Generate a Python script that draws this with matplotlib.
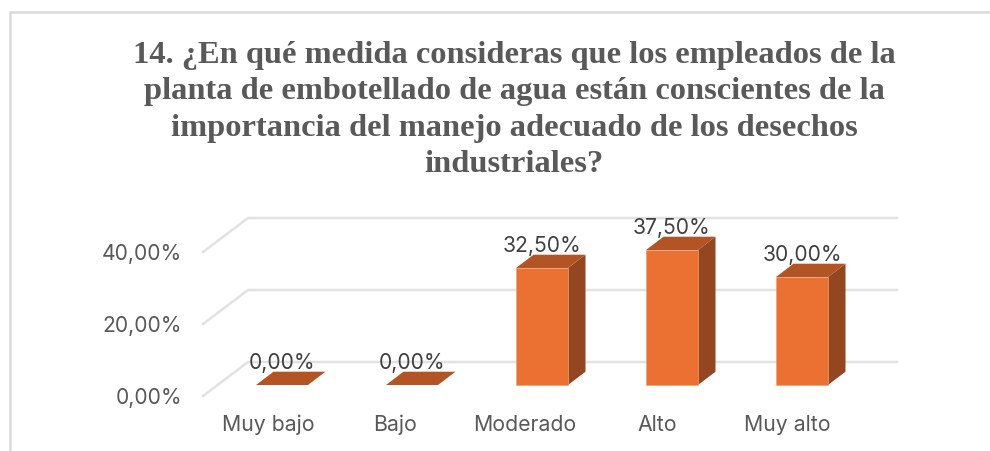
import matplotlib
matplotlib.use('agg')
import matplotlib.pyplot as plt
from matplotlib.patches import Polygon, Rectangle

categories = ['Muy bajo', 'Bajo', 'Moderado', 'Alto', 'Muy alto']
values = [0.0, 0.0, 32.5, 37.5, 30.0]
grid_values = [0, 20, 40]
title = ('14. ¿En qué medida consideras que los empleados de la\n'
         'planta de embotellado de agua están conscientes de la\n'
         'importancia del manejo adecuado de los desechos\n'
         'industriales?')

W, H = 990, 452
FRONT = '#EA7131'
TOP = '#B25423'
SIDE = '#934620'
GRID = '#E2E2E2'
TEXT = '#404040'
LABEL = '#595959'
SANS = 'Inter'
FS_VALUE = 15.2
FS_CAT = 15.3

fig = plt.figure(figsize=(W / 100, H / 100), dpi=100)
fig.add_artist(Rectangle((9.5 / W, -0.05), (W + 20) / W, 1 - 12.5 / H + 0.05,
                         transform=fig.transFigure, fc='white', ec='#DADADA', lw=1.8, zorder=-1))

# axes box in pixels: x 203-897, y 219-397
ax = fig.add_axes([203 / W, 1 - 397 / H, 694 / W, 178 / H])
px_x = 130.0  # pixels per category
px_y = 3.6    # pixels per percent
ax.set_xlim((203 - 282) / px_x, (897 - 282) / px_x)
ax.set_ylim(-11 / px_y, 167 / px_y)
ax.axis('off')

# wall offset from the front plane, in data units
wall_dx = 45 / px_x
wall_dy = 34 / px_y
floor_y = -11 / px_y
bar_w = 52 / px_x
bar_dx = 17.5 / px_x
bar_dy = 13.3 / px_y
x0, x1 = ax.get_xlim()

for v in grid_values:
    y_front = floor_y + v
    ax.plot([x0, x0 + wall_dx, x1], [y_front, y_front + wall_dy, y_front + wall_dy],
            color=GRID, lw=1.8, clip_on=False, solid_joinstyle='miter', zorder=1)
    ax.annotate(f'{v:.2f}%'.replace('.', ','), xy=(x0, y_front), xytext=(-15, -1),
                textcoords='offset points', ha='right', va='center',
                fontsize=FS_VALUE, color=LABEL, family=SANS, annotation_clip=False)

for i, (cat, v) in enumerate(zip(categories, values)):
    l = i - bar_w / 2
    r = i + bar_w / 2
    if v > 0:
        ax.add_patch(Polygon([(r, 0), (r + bar_dx, bar_dy), (r + bar_dx, v + bar_dy), (r, v)],
                             fc=SIDE, ec='none', zorder=3))
        ax.add_patch(Rectangle((l, 0), bar_w, v, fc=FRONT, ec='#F0A27A', lw=0.5, zorder=4))
    ax.add_patch(Polygon([(l, v), (r, v), (r + bar_dx, v + bar_dy), (l + bar_dx, v + bar_dy)],
                         fc=TOP, ec='none', zorder=3))
    ax.annotate(f'{v:.2f}%'.replace('.', ','), xy=(i, v + bar_dy), xytext=(0, 3),
                textcoords='offset points', ha='center', va='baseline',
                fontsize=FS_VALUE, color=TEXT, family=SANS, zorder=6, annotation_clip=False)

# category labels sit slightly left of the bars
label_x = [268, 395, 525, 657, 787]
for cat, x in zip(categories, label_x):
    fig.text(x / W, 1 - 425 / H, cat, ha='center', va='center',
             fontsize=FS_CAT, color=LABEL, family=SANS)

fig.text(514 / W, 1 - 110 / H, title, ha='center', va='center', fontsize=23.4,
         fontweight='bold', family='Liberation Serif', color=LABEL, linespacing=1.33)

fig.savefig('out.png', dpi=100)
